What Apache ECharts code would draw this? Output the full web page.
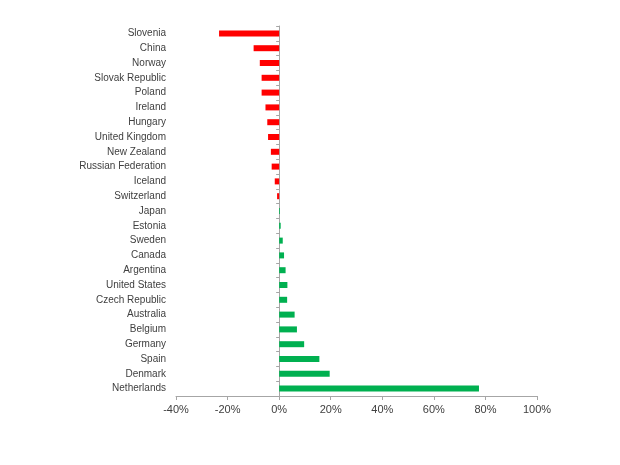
<!DOCTYPE html>
<html>
<head>
<meta charset="utf-8">
<script src="https://cdn.jsdelivr.net/npm/echarts@6/dist/echarts.min.js"></script>
<style>html,body{margin:0;padding:0;background:#fff;}#c{width:620px;height:465px;}</style>
</head>
<body>
<div id="c"></div>
<script>
var categories = ["Slovenia","China","Norway","Slovak Republic","Poland","Ireland","Hungary","United Kingdom","New Zealand","Russian Federation","Iceland","Switzerland","Japan","Estonia","Sweden","Canada","Argentina","United States","Czech Republic","Australia","Belgium","Germany","Spain","Denmark","Netherlands"];
var values = [-23.3,-9.9,-7.5,-6.8,-6.8,-5.3,-4.6,-4.3,-3.2,-2.9,-1.7,-0.8,0.3,0.6,1.4,1.9,2.5,3.2,3.1,6.0,6.9,9.7,15.6,19.6,77.5];
var xTicks = [-40,-20,0,20,40,60,80,100];

var chart = echarts.init(document.getElementById('c'));
var font = '"Liberation Sans", Arial, sans-serif';
chart.setOption({
  animation: false,
  grid: {left: 176, right: 83, top: 26, bottom: 69},
  xAxis: {
    type: 'value', min: xTicks[0], max: xTicks[xTicks.length-1], interval: 20,
    splitLine: {show: false},
    axisLine: {show: true, onZero: false, lineStyle: {color: '#a6a6a6'}},
    axisTick: {show: true, length: 4, lineStyle: {color: '#a6a6a6'}},
    axisLabel: {color: '#404040', fontSize: 11, fontFamily: font, margin: 8, formatter: function(v){return v + '%';}}
  },
  yAxis: [{
    type: 'category', data: categories, inverse: true,
    axisLine: {show: false, onZero: false}, axisTick: {show: false},
    axisLabel: {color: '#404040', fontSize: 10, fontFamily: font, margin: 10, interval: 0}
  }, {
    type: 'category', data: categories, inverse: true, position: 'left',
    axisLine: {show: true, onZero: true, onZeroAxisIndex: 0, lineStyle: {color: '#a6a6a6'}},
    axisTick: {show: true, length: 3, interval: 0, lineStyle: {color: '#a6a6a6'}},
    axisLabel: {show: false, interval: 0}
  }],
  series: [{
    type: 'bar', yAxisIndex: 0, barWidth: 6,
    data: values.map(function(v){return {value: v, itemStyle: {color: v < 0 ? '#ff0000' : '#00b050'}};})
  }]
});
</script>
</body>
</html>
